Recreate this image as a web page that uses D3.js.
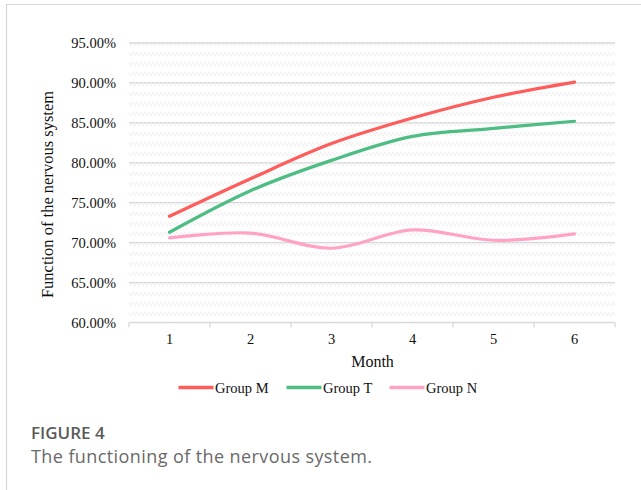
<!DOCTYPE html>
<html>
<head>
<meta charset="utf-8">
<script src="https://cdn.jsdelivr.net/npm/d3@7"></script>
<style>
  html, body { margin: 0; padding: 0; background: #fff; }
  svg { display: block; }
  .serif { font-family: 'Liberation Serif', 'Times New Roman', serif; }
</style>
</head>
<body>
<svg id="chart" width="641" height="490"></svg>
<script>
// Months on the x axis
const months = ["1", "2", "3", "4", "5", "6"];
// Nervous system function (%) per group
const groupM = [73.3, 78.0, 82.4, 85.6, 88.2, 90.1];
const groupT = [71.3, 76.5, 80.3, 83.3, 84.3, 85.2];
const groupN = [70.6, 71.2, 69.3, 71.6, 70.3, 71.1];
const seriesNames = ["Group M", "Group T", "Group N"];
const seriesColors = ["#ff5c5c", "#4dbd84", "#ffa3c6"];
const yTicks = [60, 65, 70, 75, 80, 85, 90, 95];

const series = [groupM, groupT, groupN];

const svg = d3.select("#chart");
const serif = "'Liberation Serif', 'Times New Roman', serif";

// Outer frame (top and left edges)
svg.append("line").attr("x1", 6).attr("x2", 641).attr("y1", 4.5).attr("y2", 4.5)
  .attr("stroke", "#d6d6d6").attr("stroke-width", 1.2);
svg.append("line").attr("x1", 6.5).attr("x2", 6.5).attr("y1", 4).attr("y2", 490)
  .attr("stroke", "#d6d6d6").attr("stroke-width", 1.2);

const plot = { left: 129, right: 615, top: 43, bottom: 322.5 };

const x = d3.scaleBand().domain(months).range([plot.left, plot.right]);
const y = d3.scaleLinear().domain([60, 95]).range([plot.bottom, plot.top]);

// Diagonal hatch fill for the plot area
const defs = svg.append("defs");
const pat = defs.append("pattern")
  .attr("id", "hatch").attr("patternUnits", "userSpaceOnUse")
  .attr("width", 4).attr("height", 10);
pat.append("path").attr("d", "M0,2 L4,6 M-2,4 L0,6 M4,2 L6,4")
  .attr("stroke", "#efefef").attr("stroke-width", 1.2);

svg.append("rect")
  .attr("x", plot.left).attr("y", plot.top)
  .attr("width", plot.right - plot.left).attr("height", plot.bottom - plot.top)
  .attr("fill", "url(#hatch)");

// Horizontal gridlines
svg.append("g").selectAll("line").data(yTicks.filter(d => d !== 60)).join("line")
  .attr("x1", plot.left).attr("x2", plot.right)
  .attr("y1", d => y(d)).attr("y2", d => y(d))
  .attr("stroke", "#d9d9d9").attr("stroke-width", 1.3);

// Y axis labels
const yAxis = d3.axisLeft(y).tickValues(yTicks)
  .tickFormat(d => d.toFixed(2) + "%").tickSize(0).tickPadding(13);
const gy = svg.append("g").attr("transform", `translate(${plot.left},0)`).call(yAxis)
  .attr("font-family", null).attr("font-size", null);
gy.select(".domain").remove();
gy.selectAll("text").attr("class", "serif")
  .style("font-family", serif).style("font-size", "14.5px").attr("fill", "#111");

// X axis with tick marks on band boundaries
const gx = svg.append("g").attr("transform", `translate(0,${plot.bottom})`);
gx.append("line").attr("x1", plot.left).attr("x2", plot.right)
  .attr("stroke", "#d9d9d9").attr("stroke-width", 1.3);
const bounds = months.map(m => x(m)).concat([plot.right]);
gx.selectAll("line.tick").data(bounds).join("line").attr("class", "tick")
  .attr("x1", d => d).attr("x2", d => d).attr("y1", 0).attr("y2", 5)
  .attr("stroke", "#d9d9d9").attr("stroke-width", 1.3);
gx.selectAll("text").data(months).join("text")
  .attr("x", d => x(d) + x.bandwidth() / 2).attr("y", 21.5)
  .attr("text-anchor", "middle")
  .style("font-family", serif).style("font-size", "14.5px").attr("fill", "#111")
  .text(d => d);

// Axis titles
svg.append("text").attr("x", (plot.left + plot.right) / 2 + 0.5).attr("y", 367)
  .attr("text-anchor", "middle").style("font-family", serif).style("font-size", "16px")
  .attr("fill", "#111").text("Month");
svg.append("text")
  .attr("transform", `translate(53,${(89 + 300) / 2}) rotate(-90)`)
  .attr("text-anchor", "middle").style("font-family", serif).style("font-size", "16.5px")
  .attr("fill", "#111").text("Function of the nervous system");

// Smoothed series lines
const line = d3.line()
  .x((d, i) => x(months[i]) + x.bandwidth() / 2)
  .y(d => y(d))
  .curve(d3.curveCatmullRom.alpha(0.5));

svg.append("g").selectAll("path").data(series).join("path")
  .attr("d", d => line(d))
  .attr("fill", "none")
  .attr("stroke", (d, i) => seriesColors[i])
  .attr("stroke-width", 3.2)
  .attr("stroke-linecap", "round");

// Legend
const legendX = [178.5, 286.5, 389.5];
const lg = svg.append("g");
seriesNames.forEach((name, i) => {
  lg.append("line").attr("x1", legendX[i]).attr("x2", legendX[i] + 35)
    .attr("y1", 387.5).attr("y2", 387.5)
    .attr("stroke", seriesColors[i]).attr("stroke-width", 3.5);
  lg.append("text").attr("x", legendX[i] + 36.5).attr("y", 392.5)
    .style("font-family", serif).style("font-size", "14.5px").attr("fill", "#111")
    .text(name);
});

// Figure caption
svg.append("text").attr("x", 31).attr("y", 438.5)
  .style("font-family", "'Open Sans', sans-serif").style("font-size", "17px")
  .attr("font-weight", 600).attr("fill", "#5a5a5a").text("FIGURE 4");
svg.append("text").attr("x", 31).attr("y", 463)
  .style("font-family", "'Open Sans', sans-serif").style("font-size", "18px")
  .attr("textLength", 341).attr("lengthAdjust", "spacing")
  .attr("fill", "#6a6a6a").text("The functioning of the nervous system.");
</script>
</body>
</html>
